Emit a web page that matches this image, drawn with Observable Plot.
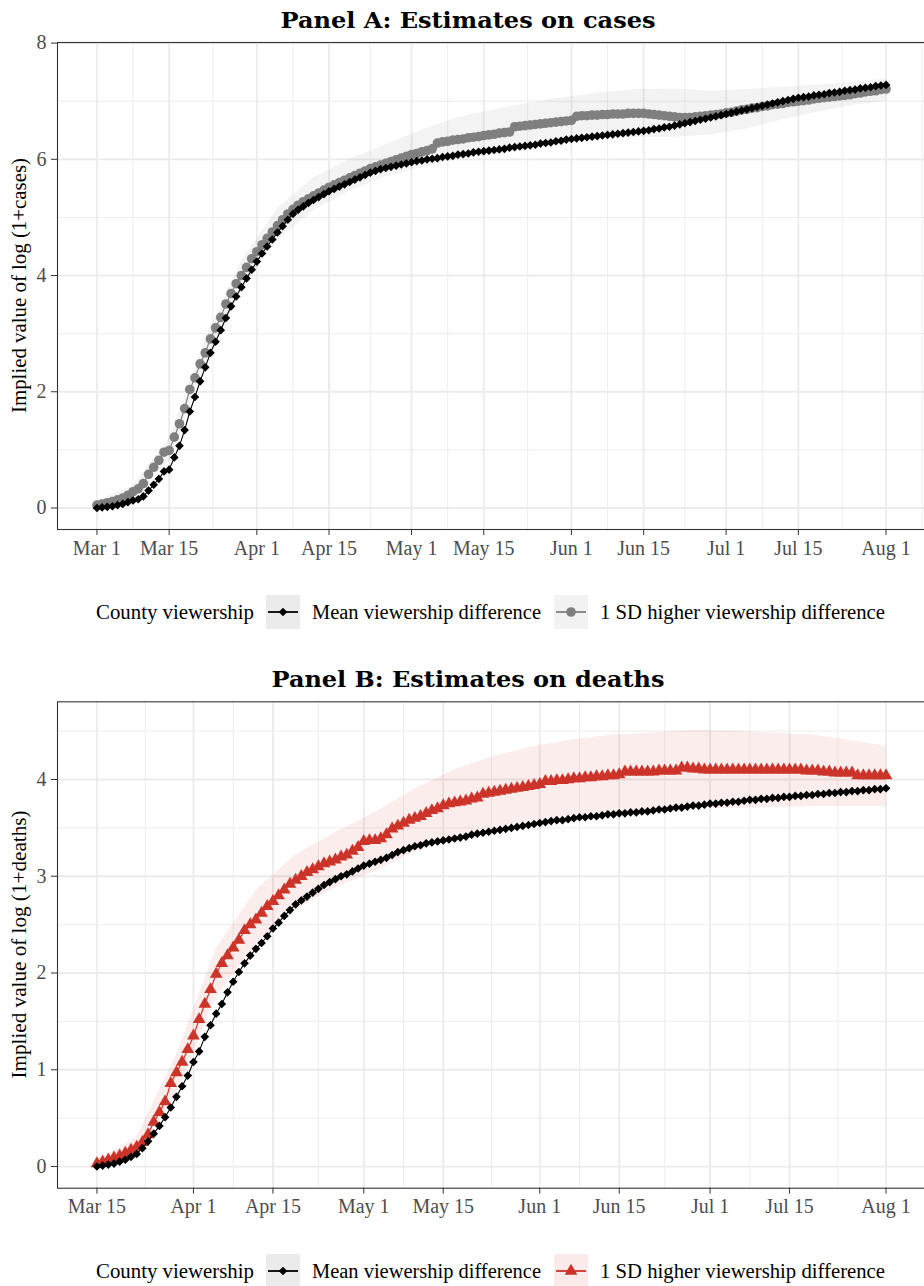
<!DOCTYPE html>
<html><head><meta charset="utf-8">
<script src="https://cdn.jsdelivr.net/npm/d3@7"></script>
<script src="https://cdn.jsdelivr.net/npm/@observablehq/plot@0.6"></script>
<style>
html,body{margin:0;padding:0;background:#fff;}
#page{position:relative;width:924px;height:1286px;overflow:hidden;background:#fff;font-family:"Liberation Serif",serif;}
#page svg{position:absolute;left:0;max-width:none !important;}
</style></head><body><div id="page"></div>
<script>
// ---------- DATA ----------
const startCases = "2020-03-01";
const startDeaths = "2020-03-15";

// Panel A: implied log(1+cases), daily Mar 1 .. Aug 1
const casesMean = [
0.00,0.01,0.02,0.03,0.05,0.07,0.10,0.13,0.15,0.20,
0.30,0.40,0.50,0.63,0.66,0.87,1.07,1.34,1.66,1.91,
2.18,2.42,2.67,2.86,3.06,3.27,3.47,3.64,3.80,3.95,
4.10,4.24,4.38,4.50,4.62,4.74,4.85,4.96,5.06,5.13,
5.19,5.25,5.30,5.35,5.40,5.45,5.49,5.53,5.57,5.61,
5.65,5.69,5.73,5.77,5.80,5.83,5.85,5.87,5.89,5.91,
5.93,5.95,5.97,5.98,6.00,6.01,6.02,6.04,6.05,6.06,
6.08,6.09,6.10,6.12,6.13,6.14,6.15,6.16,6.17,6.18,
6.20,6.21,6.22,6.23,6.24,6.25,6.27,6.28,6.29,6.31,
6.32,6.34,6.35,6.36,6.37,6.38,6.39,6.40,6.41,6.42,
6.43,6.44,6.45,6.46,6.47,6.48,6.49,6.50,6.52,6.53,
6.55,6.56,6.58,6.60,6.62,6.64,6.66,6.68,6.70,6.72,
6.74,6.76,6.78,6.80,6.82,6.84,6.86,6.88,6.90,6.92,
6.94,6.96,6.98,7.00,7.02,7.04,7.06,7.07,7.08,7.10,
7.11,7.12,7.14,7.15,7.16,7.18,7.19,7.20,7.22,7.23,
7.24,7.26,7.27,7.28];
const casesSD = [
0.05,0.07,0.09,0.11,0.14,0.17,0.22,0.28,0.33,0.42,
0.58,0.70,0.82,0.96,0.99,1.22,1.45,1.71,2.04,2.24,
2.48,2.67,2.91,3.10,3.28,3.51,3.69,3.86,4.00,4.14,
4.29,4.41,4.53,4.64,4.75,4.86,4.96,5.06,5.14,5.21,
5.27,5.32,5.37,5.42,5.47,5.52,5.56,5.60,5.64,5.68,
5.72,5.76,5.80,5.84,5.87,5.90,5.93,5.96,5.99,6.02,
6.05,6.08,6.10,6.13,6.15,6.18,6.28,6.30,6.31,6.33,
6.34,6.35,6.37,6.38,6.39,6.41,6.42,6.43,6.45,6.46,
6.47,6.56,6.57,6.58,6.59,6.60,6.61,6.62,6.63,6.64,
6.65,6.66,6.67,6.74,6.75,6.75,6.76,6.76,6.77,6.77,
6.78,6.78,6.78,6.79,6.79,6.79,6.79,6.78,6.77,6.76,
6.75,6.74,6.73,6.72,6.72,6.72,6.73,6.74,6.75,6.76,
6.77,6.78,6.80,6.81,6.83,6.85,6.86,6.88,6.89,6.91,
6.92,6.94,6.95,6.96,6.98,6.99,7.00,7.01,7.02,7.04,
7.05,7.06,7.07,7.08,7.09,7.10,7.11,7.13,7.14,7.16,
7.17,7.18,7.20,7.21];
// confidence band of the 1 SD series (days after Mar 1)
const casesBandDays = [0,7,14,21,28,35,42,49,56,63,70,77,84,91,98,105,112,119,126,133,140,147,153];
const casesBandLow  = [-0.02,0.18,0.80,2.45,3.75,4.60,5.12,5.45,5.70,5.85,6.00,6.08,6.18,6.28,6.35,6.38,6.38,6.42,6.52,6.68,6.82,6.93,7.00];
const casesBandHigh = [0.12,0.38,1.20,2.90,4.25,5.15,5.68,6.00,6.25,6.50,6.72,6.85,6.97,7.07,7.15,7.20,7.21,7.17,7.20,7.24,7.28,7.33,7.38];

// Panel B: implied log(1+deaths), daily Mar 15 .. Aug 1
const deathsMean = [
0.00,0.01,0.02,0.03,0.05,0.07,0.10,0.13,0.19,0.26,
0.34,0.42,0.51,0.61,0.72,0.83,0.94,1.08,1.19,1.34,
1.46,1.58,1.68,1.80,1.91,2.01,2.10,2.18,2.25,2.31,
2.38,2.46,2.52,2.59,2.65,2.71,2.75,2.79,2.83,2.87,
2.91,2.94,2.97,3.00,3.02,3.05,3.08,3.11,3.13,3.15,
3.17,3.19,3.22,3.25,3.27,3.29,3.31,3.32,3.34,3.35,
3.36,3.37,3.38,3.39,3.40,3.41,3.43,3.44,3.45,3.46,
3.47,3.48,3.49,3.50,3.51,3.52,3.53,3.54,3.55,3.56,
3.57,3.58,3.58,3.59,3.60,3.61,3.61,3.62,3.62,3.63,
3.64,3.64,3.65,3.65,3.66,3.66,3.67,3.67,3.68,3.69,
3.69,3.70,3.71,3.71,3.72,3.73,3.73,3.74,3.75,3.75,
3.76,3.76,3.77,3.77,3.78,3.79,3.79,3.80,3.80,3.81,
3.81,3.82,3.82,3.83,3.83,3.84,3.84,3.85,3.85,3.86,
3.86,3.87,3.87,3.88,3.88,3.89,3.89,3.90,3.90,3.91];
const deathsSD = [
0.03,0.05,0.07,0.09,0.11,0.14,0.17,0.20,0.25,0.33,
0.46,0.56,0.67,0.86,0.97,1.08,1.21,1.35,1.52,1.68,
1.83,1.99,2.10,2.18,2.26,2.34,2.44,2.50,2.55,2.62,
2.69,2.74,2.80,2.86,2.92,2.96,3.00,3.04,3.07,3.10,
3.13,3.15,3.17,3.20,3.22,3.26,3.30,3.36,3.37,3.37,
3.39,3.43,3.49,3.52,3.55,3.58,3.60,3.62,3.65,3.68,
3.70,3.73,3.75,3.76,3.77,3.78,3.80,3.81,3.85,3.86,
3.87,3.88,3.89,3.90,3.91,3.92,3.93,3.94,3.95,3.98,
3.98,3.99,3.99,4.00,4.01,4.01,4.02,4.02,4.03,4.03,
4.04,4.04,4.05,4.08,4.08,4.08,4.08,4.08,4.08,4.09,
4.09,4.09,4.09,4.12,4.12,4.11,4.11,4.10,4.10,4.10,
4.10,4.10,4.10,4.10,4.10,4.10,4.10,4.10,4.10,4.10,
4.10,4.10,4.10,4.10,4.10,4.09,4.09,4.09,4.08,4.08,
4.07,4.07,4.07,4.07,4.04,4.04,4.04,4.04,4.04,4.04];
const deathsBandDays = [0,7,14,21,28,35,42,49,56,63,70,77,84,91,98,105,112,119,126,133,139];
const deathsBandLow  = [0.00,0.12,0.75,1.75,2.30,2.65,2.88,3.05,3.25,3.40,3.50,3.58,3.63,3.66,3.68,3.70,3.70,3.71,3.72,3.72,3.72];
const deathsBandHigh = [0.06,0.30,1.15,2.25,2.85,3.22,3.45,3.66,3.90,4.10,4.24,4.34,4.41,4.46,4.48,4.51,4.50,4.48,4.46,4.40,4.34];

// axis breaks
const breaksCases  = ["2020-02-15","2020-03-01","2020-03-15","2020-04-01","2020-04-15","2020-05-01","2020-05-15","2020-06-01","2020-06-15","2020-07-01","2020-07-15","2020-08-01","2020-08-15"];
const breaksDeaths = ["2020-03-01","2020-03-15","2020-04-01","2020-04-15","2020-05-01","2020-05-15","2020-06-01","2020-06-15","2020-07-01","2020-07-15","2020-08-01","2020-08-15"];
const yBreaksCases = [0,2,4,6,8];
const yMinorCases  = [1,3,5,7];
const yBreaksDeaths = [0,1,2,3,4];
const yMinorDeaths  = [0.5,1.5,2.5,3.5,4.5];
const yDomainCases  = [-0.37, 8.01];
const yDomainDeaths = [-0.224, 4.803];

const titleCases  = "Panel A: Estimates on cases";
const titleDeaths = "Panel B: Estimates on deaths";
const yLabelCases  = "Implied value of log (1+cases)";
const yLabelDeaths = "Implied value of log (1+deaths)";
const legendTitle = "County viewership";
const legendMean = "Mean viewership difference";
const legendSD = "1 SD higher viewership difference";

const colMean = "#000000";
const colGrey = "#7f7f7f";
const colRed  = "#cc3329";

// ---------- DRAW ----------
const parse = d3.utcParse("%Y-%m-%d");
const page = document.getElementById("page");
const DAY = 864e5;

function panel(cfg) {
  const s = parse(cfg.start);
  const dates = cfg.mean.map((_, i) => d3.utcDay.offset(s, i));
  const end = dates[dates.length - 1];
  const meanRows = cfg.mean.map((v, i) => ({date: dates[i], v}));
  const sdRows = cfg.sd.map((v, i) => ({date: dates[i], v}));
  const band = cfg.bandDays.map((d, i) => ({date: d3.utcDay.offset(s, d), lo: cfg.bandLow[i], hi: cfg.bandHigh[i]}));
  const span = (end - s) / DAY * 0.05;
  const xDomain = [new Date(+s - span * DAY), new Date(+end + span * DAY)];
  const br = cfg.breaks.map(parse);
  const major = br.filter(d => d >= s && d <= end);
  const minor = d3.pairs(br, (a, b) => new Date((+a + +b) / 2))
    .filter(d => +d > +xDomain[0] + DAY && +d < +xDomain[1] + DAY);
  const grid = {stroke: "#ebebeb", strokeOpacity: 1};
  const svg = Plot.plot({
    width: 936, height: cfg.height,
    marginLeft: 57, marginRight: 11, marginTop: cfg.marginTop, marginBottom: cfg.marginBottom,
    x: {type: "utc", domain: xDomain},
    y: {domain: cfg.yDomain},
    style: {background: "transparent", fontFamily: "Liberation Serif", fontSize: "20px", overflow: "visible", maxWidth: "none"},
    marks: [
      Plot.gridY(cfg.yMinor, {...grid, strokeWidth: 0.9}),
      Plot.gridX(minor, {...grid, strokeWidth: 0.9}),
      Plot.gridY(cfg.yBreaks, {...grid, strokeWidth: 1.8}),
      Plot.gridX(major, {...grid, strokeWidth: 1.8}),
      Plot.areaY(band, {x: "date", y1: "lo", y2: "hi", fill: cfg.sdColor, fillOpacity: 0.09}),
      Plot.line(sdRows, {x: "date", y: "v", stroke: cfg.sdColor, strokeWidth: 1.2}),
      Plot.dot(sdRows, {x: "date", y: "v", symbol: cfg.sdSymbol, r: cfg.sdR, fill: cfg.sdColor}),
      Plot.line(meanRows, {x: "date", y: "v", stroke: colMean, strokeWidth: 1.1}),
      Plot.dot(meanRows, {x: "date", y: "v", symbol: "diamond2", r: 3.9, fill: colMean}),
      Plot.frame({stroke: "#333333", strokeWidth: 1.1}),
      Plot.axisX(major, {tickFormat: d3.utcFormat("%b %-d"), tickSize: 6, tickPadding: 5, fontSize: 20, stroke: "#333333", fill: "#4d4d4d", label: null}),
      Plot.axisY(cfg.yBreaks, {tickFormat: d3.format(""), tickSize: 6, tickPadding: 5, fontSize: 20, stroke: "#333333", fill: "#4d4d4d", label: null})
    ]
  });
  svg.style.top = cfg.top + "px";
  svg.style.maxWidth = "none";
  svg.style.width = "936px";
  svg.style.height = cfg.height + "px";
  page.appendChild(svg);
}

panel({start: startCases, mean: casesMean, sd: casesSD,
  bandDays: casesBandDays, bandLow: casesBandLow, bandHigh: casesBandHigh,
  breaks: breaksCases, yBreaks: yBreaksCases, yMinor: yMinorCases, yDomain: yDomainCases,
  sdColor: colGrey, sdSymbol: "circle", sdR: 4.8,
  top: 0, height: 570, marginTop: 42, marginBottom: 41});

panel({start: startDeaths, mean: deathsMean, sd: deathsSD,
  bandDays: deathsBandDays, bandLow: deathsBandLow, bandHigh: deathsBandHigh,
  breaks: breaksDeaths, yBreaks: yBreaksDeaths, yMinor: yMinorDeaths, yDomain: yDomainDeaths,
  sdColor: colRed, sdSymbol: "triangle", sdR: 4.7,
  top: 640, height: 590, marginTop: 61.3, marginBottom: 42.3});

// overlay: titles, y labels, legends
const ov = d3.select(page).append("svg")
  .attr("width", 924).attr("height", 1286)
  .style("top", "0px").style("pointer-events", "none")
  .style("font-family", "'Liberation Serif', serif");

function title(txt, y, len) {
  ov.append("text").attr("x", 468).attr("y", y).attr("text-anchor", "middle")
    .attr("font-family", "'DejaVu Serif', serif").attr("font-weight", "bold")
    .attr("font-size", 23).attr("textLength", len).attr("lengthAdjust", "spacingAndGlyphs")
    .attr("fill", "#000").text(txt);
}
title(titleCases, 28, 375);
title(titleDeaths, 687, 393);

function ylab(txt, cy, len) {
  ov.append("text").attr("transform", `translate(26,${cy}) rotate(-90)`)
    .attr("text-anchor", "middle").attr("font-size", 20)
    .attr("textLength", len).attr("lengthAdjust", "spacingAndGlyphs")
    .attr("fill", "#000").text(txt);
}
ylab(yLabelCases, 285.5, 255);
ylab(yLabelDeaths, 944.5, 268);

function sym(type, r) { return d3.symbol().type(type).size(Math.PI * r * r)(); }

function legend(cy, sdColor, sdSym, sdR, sdBg) {
  const base = cy + 7;
  ov.append("text").attr("x", 96).attr("y", base).attr("font-size", 20)
    .attr("textLength", 158).attr("lengthAdjust", "spacingAndGlyphs").text(legendTitle);
  const keys = [
    {x: 266, bg: "#ebebeb", col: colMean, s: d3.symbolDiamond2, r: 3.9, label: legendMean, tx: 312, len: 229},
    {x: 554, bg: sdBg, col: sdColor, s: sdSym, r: sdR, label: legendSD, tx: 600, len: 285}
  ];
  for (const k of keys) {
    ov.append("rect").attr("x", k.x).attr("y", cy - 17).attr("width", 34).attr("height", 34).attr("fill", k.bg);
    ov.append("line").attr("x1", k.x + 2).attr("x2", k.x + 32).attr("y1", cy).attr("y2", cy)
      .attr("stroke", k.col).attr("stroke-width", 1.8);
    ov.append("path").attr("d", sym(k.s, k.r)).attr("transform", `translate(${k.x + 17},${cy})`).attr("fill", k.col);
    ov.append("text").attr("x", k.tx).attr("y", base).attr("font-size", 20)
      .attr("textLength", k.len).attr("lengthAdjust", "spacingAndGlyphs").text(k.label);
  }
}
legend(612, colGrey, d3.symbolCircle, 4.8, "#f2f2f2");
legend(1271, colRed, d3.symbolTriangle, 4.7, "#faebea");
</script></body></html>
